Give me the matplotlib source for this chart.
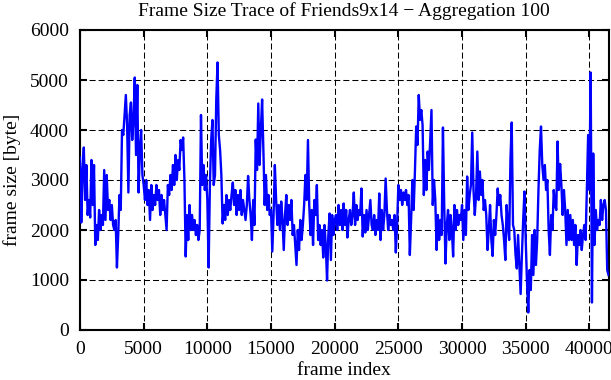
import numpy as np
import matplotlib
matplotlib.use("Agg")
import matplotlib.pyplot as plt

# aggregated frame sizes (100 frames per value)
frame_step = 100
frame_size = [
    3450, 2150, 3200, 3650, 2600, 3300, 2300, 2600, 2250, 3400,
    2500, 3300, 1700, 2100, 1800, 2400, 2000, 2300, 2100, 3200,
    2200, 3100, 2400, 2600, 2200, 2500, 2100, 2000, 2200, 1250,
    1900, 2700, 2400, 4000, 3900, 4300, 4700, 4100, 2750, 4300,
    4550, 3800, 4200, 5050, 3500, 4900, 2750, 3600, 4000, 3100,
    2900, 2600, 3000, 2500, 2800, 2200, 2900, 2400, 2700, 2500,
    2900, 2600, 2800, 2300, 2700, 2400, 2600, 2300, 2000, 2900,
    2700, 3100, 2800, 3300, 2900, 3500, 3000, 3400, 3200, 3800,
    3600, 3850, 3000, 1470, 2300, 1800, 2500, 2000, 2300, 2000,
    2200, 1900, 2100, 1800, 2000, 4300, 2900, 3300, 2800, 3100,
    2600, 1250, 2900, 3800, 4200, 2900, 3100, 4600, 5350, 3900,
    3600, 3100, 2130, 2500, 2200, 2700, 2300, 2600, 2400, 2700,
    2950, 2500, 2800, 2300, 2700, 2400, 2800, 2300, 2600, 2400,
    2200, 2500, 3080, 2600, 2300, 1800, 2600, 2100, 3810, 3200,
    4530, 3300, 4000, 4610, 3600, 2500, 3100, 2400, 2700, 2300,
    2400, 1570, 2300, 3300, 2600, 2100, 2500, 2000, 2570, 2200,
    1600, 2300, 2700, 2100, 2500, 2200, 2600, 1900, 2100, 1700,
    1300, 2000, 1600, 2200, 1800, 2100, 2500, 3100, 2600, 3800,
    2500, 1900, 2400, 1700, 2600, 2300, 2900, 1800, 2100, 1700,
    2000, 1450, 2100, 1700, 990, 1900, 2330, 1400, 2300, 1900, 2200,
    2300, 2000, 2500, 2100, 2400, 2000, 2530, 2100, 2400, 1850,
    2200, 2400, 2100, 2300, 2750, 2100, 2500, 2200, 2400, 2300,
    2830, 1870, 2300, 1950, 2400, 2000, 2300, 2600, 2100, 2000,
    2300, 1900, 2200, 2000, 2730, 1800, 2400, 2000, 2300, 3030,
    2400, 2000, 2300, 2100, 2200, 2000, 2300, 1550, 2100, 2900,
    2600, 2800, 2500, 2750, 2600, 2800, 2500, 2700, 1500, 2200,
    3000, 2400, 3170, 4070, 3700, 4700, 4200, 4400, 4100, 2700,
    3400, 2800, 3570, 3200, 3800, 4400, 2500, 3000, 2600, 1600,
    2300, 1800, 2200, 1900, 4050, 2500, 1330, 2100, 2400, 1800,
    2300, 2000, 1470, 2500, 2000, 2400, 2100, 2300, 2200, 2500,
    1800, 2400, 1900, 3070, 2400, 2700, 2900, 3950, 2800, 2300,
    2700, 3570, 2600, 3170, 2700, 3000, 2400, 2600, 2300, 1600,
    2000, 2500, 1800, 1480, 2200, 1900, 2300, 2830, 2500, 2700, 2300,
    2100, 1800, 1400, 2500, 2100, 1800, 3400, 4150, 2100, 2000,
    1500, 1230, 1900, 1300, 720, 1500, 2200, 2770, 1800, 970,
    350, 1200, 800, 1900, 1100, 2000, 1300, 1800, 2800, 3600,
    4070, 3300, 3000, 3300, 2800, 3000, 2000, 1500, 2300, 2000,
    2800, 2500, 2400, 3770, 2800, 3320, 2900, 2300, 2800, 2400,
    1700, 2400, 1800, 2300, 1800, 2200, 1700, 2100, 1300, 1900,
    1700, 2000, 1600, 1900, 2100, 1800, 2800, 3900, 2800, 5150,
    550, 3530, 1700, 2400, 2000, 2200, 2100, 2600, 2200, 2500,
    2600, 2400, 1200, 1100,
]
x_ticks = [0, 5000, 10000, 15000, 20000, 25000, 30000, 35000, 40000]
y_ticks = [0, 1000, 2000, 3000, 4000, 5000, 6000]

plt.rcParams['font.family'] = ['Liberation Serif', 'DejaVu Serif']

frames = np.arange(len(frame_size)) * frame_step

fig = plt.figure(figsize=(6.11, 3.80), dpi=100)
ax = fig.add_axes([80 / 611, 1 - 330 / 380, 528.5 / 611, 300 / 380])

ax.plot(frames, frame_size, color='#0000ff', lw=1.7, zorder=3)

ax.set_xlim(0, 41500)
ax.set_ylim(0, 6000)
ax.set_xticks(x_ticks)
ax.set_yticks(y_ticks)
ax.grid(True, color='black', lw=0.75, linestyle=(0, (5.8, 2.9)))

for s in ax.spines.values():
    s.set_linewidth(1.5)
ax.tick_params(direction='in', length=5, width=1.5, labelsize=14,
               top=True, right=True, pad=8)

ax.set_title('Frame Size Trace of Friends9x14 \u2212 Aggregation 100',
             fontsize=14, pad=10)
ax.set_xlabel('frame index', fontsize=14, labelpad=3)
ax.set_ylabel('frame size [byte]', fontsize=14, labelpad=6)

fig.savefig('out.png', dpi=100)
